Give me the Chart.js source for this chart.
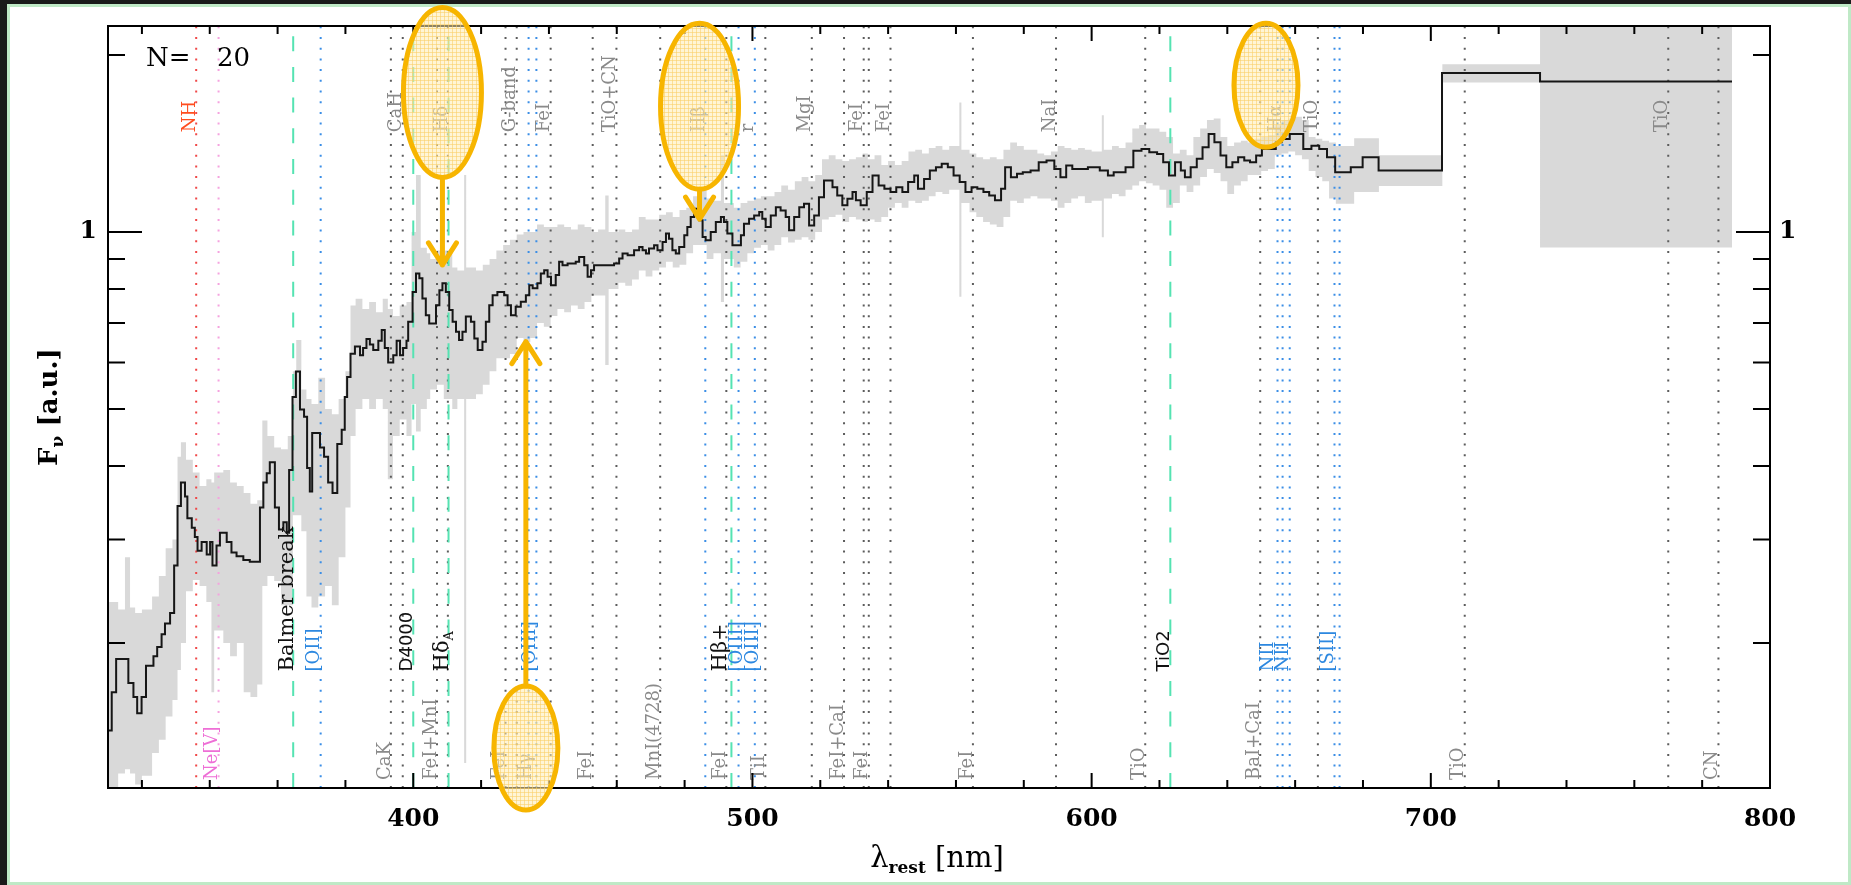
<!DOCTYPE html>
<html>
<head>
<meta charset="utf-8">
<script src="https://cdn.jsdelivr.net/npm/chart.js@4.4.1/dist/chart.umd.min.js"></script>
<style>
html,body{margin:0;padding:0;width:1851px;height:885px;overflow:hidden;background:#1a1a1a}
#frame{position:absolute;left:7px;top:4px;right:0;bottom:0;box-sizing:border-box;border:3px solid #bfe9c6;background:#fff}
#c{position:absolute;left:0;top:0}
</style>
</head>
<body>
<div id="frame"></div>
<canvas id="c" width="1851" height="885"></canvas>
<script>
// axis ranges
var xMin = 310, xMax = 800;
var yMin = 0.1134, yMax = 2.24;

// stacked spectrum (black step line), each value holds until the next wavelength
var specWl = [
309.8,311.1,312.4,316.0,317.5,318.6,319.9,321.2,323.4,324.5,
325.8,326.8,328.3,329.5,330.5,331.5,332.7,333.4,334.7,335.6,
336.4,337.6,339.1,340.1,340.8,342.0,343.0,345.0,346.4,347.9,
349.9,351.8,354.8,355.8,356.8,357.7,359.2,360.4,361.7,362.7,
363.4,364.4,365.4,366.6,367.8,368.7,369.5,370.2,372.5,373.7,
374.9,376.2,377.6,378.9,379.8,380.5,381.5,382.8,384.3,385.2,
386.2,387.2,388.2,389.7,390.7,391.6,392.6,394.1,395.1,396.1,
397.0,398.0,398.5,399.8,400.8,401.8,402.7,403.7,404.7,406.7,
407.7,408.6,409.6,410.6,411.6,412.6,413.5,414.5,415.5,417.0,
418.0,419.0,420.4,421.4,422.4,423.4,424.8,426.8,427.8,428.8,
430.2,431.7,433.2,434.2,435.2,436.6,437.6,438.6,439.6,440.6,
442.0,443.0,444.0,445.5,447.9,448.9,450.4,451.4,452.4,453.3,
459.2,460.7,461.7,463.2,465.1,466.6,467.6,468.6,469.5,471.0,
472.0,473.5,474.5,475.4,476.4,477.4,478.4,479.9,480.8,481.8,
482.8,484.3,485.3,486.2,487.7,489.2,490.7,491.6,492.6,494.1,
496.6,497.5,499.0,500.5,502.0,502.9,503.9,505.4,506.9,508.3,
509.8,510.8,512.3,513.8,515.2,516.7,518.2,519.6,521.1,523.6,
525.0,526.5,528.0,529.5,530.5,531.9,533.7,535.4,537.2,538.9,
540.7,542.4,544.2,545.9,547.7,548.8,550.6,552.3,554.1,555.8,
557.6,559.3,561.1,562.8,564.6,566.3,568.1,569.8,571.5,573.3,
574.5,576.2,578.0,579.7,582.0,584.4,586.7,589.0,590.8,592.5,
594.3,598.9,602.4,604.8,606.5,610.0,612.3,614.7,617.0,619.3,
621.1,622.8,624.6,626.3,627.5,629.2,631.0,632.7,634.5,636.2,
638.0,639.7,641.5,643.2,645.0,646.7,648.5,650.2,654.3,656.0,
658.4,662.4,664.8,667.1,669.4,671.8,676.4,679.9,684.6,703.3,
732.2,788.8];
var specFlux = [
0.142,0.165,0.188,0.171,0.162,0.152,0.162,0.183,0.190,0.197,
0.207,0.216,0.225,0.271,0.342,0.375,0.355,0.326,0.314,0.303,
0.287,0.297,0.283,0.297,0.271,0.293,0.308,0.297,0.285,0.281,
0.277,0.275,0.340,0.375,0.389,0.406,0.340,0.312,0.321,0.308,
0.394,0.524,0.579,0.499,0.485,0.397,0.362,0.455,0.430,0.415,
0.375,0.360,0.436,0.461,0.524,0.567,0.621,0.639,0.617,0.635,
0.658,0.644,0.630,0.653,0.681,0.635,0.600,0.617,0.653,0.617,
0.635,0.653,0.704,0.791,0.850,0.834,0.771,0.722,0.699,0.751,
0.796,0.818,0.791,0.737,0.704,0.677,0.655,0.677,0.718,0.704,
0.659,0.630,0.651,0.704,0.751,0.781,0.791,0.781,0.751,0.722,
0.746,0.761,0.781,0.812,0.802,0.818,0.850,0.861,0.839,0.812,
0.845,0.890,0.878,0.884,0.890,0.907,0.878,0.839,0.861,0.878,
0.884,0.901,0.919,0.913,0.931,0.943,0.931,0.919,0.937,0.949,
0.931,0.962,0.994,0.974,0.931,0.919,0.943,0.987,1.020,1.060,
1.095,1.047,0.981,0.968,1.000,1.040,1.060,1.040,0.994,0.949,
0.987,1.033,1.053,1.067,1.081,1.053,1.020,1.067,1.102,1.088,
1.060,1.007,1.060,1.102,1.117,1.026,1.067,1.146,1.223,1.192,
1.154,1.110,1.139,1.169,1.132,1.110,1.169,1.247,1.200,1.184,
1.169,1.192,1.169,1.216,1.247,1.184,1.231,1.272,1.289,1.306,
1.289,1.247,1.216,1.169,1.192,1.184,1.169,1.154,1.132,1.184,
1.289,1.239,1.256,1.264,1.272,1.314,1.323,1.280,1.239,1.297,
1.280,1.289,1.272,1.247,1.264,1.289,1.375,1.384,1.366,1.357,
1.314,1.247,1.314,1.272,1.239,1.289,1.332,1.393,1.468,1.421,
1.349,1.289,1.314,1.340,1.323,1.314,1.349,1.384,1.421,1.439,
1.468,1.384,1.402,1.384,1.340,1.264,1.289,1.340,1.272,1.864,
1.803,1.803];

// spread of the individual spectra (grey band)
var bandWl = [
310,313,315,316.5,318,320,323,325,327,329,
330.5,331.5,333,335,337,339,340.5,341.3,344,346,
348,350,352,354,355.5,357,359,361,363,364.5,
365.5,367,368.5,370,372,374,376,378,380,381.5,
383,385,387,389,391,392.5,394,396,398,399.5,
400.8,402.2,404,405,407,409,411.5,413,415,415.6,
418.5,420.5,422.5,424.5,426.5,428.5,430.5,432.5,434.5,436.5,
438.5,440.5,442.5,444.5,446.5,448.5,450.5,452.5,454.5,456.6,
457.6,460.5,462.5,464.5,466.5,468.5,470.5,472.5,474.5,476.5,
478.5,480.5,482.5,484.5,486.5,488.5,490.7,491.6,494.5,496.5,
498.5,500.5,502.5,504.5,506.5,508.5,510.5,512.5,514.5,516.5,
518.5,520.5,522.5,524.5,526.5,528.5,530.5,532.5,534,536,
538,540,542,544,546,548,550,552,554,556,
558,561,561.6,564,566,568,570,572,574,576,
578,580,582,584,586,588,590,592,594,596,
598,600,603,603.6,606,608,610,612,614,616,
618,620,622,624,626,628,630,632,634,636,
638,640,642,644,646,648,650,652,654,656,
658,660,662,664,666,668,670,672,677.4,684.7,
703.4,732.2,788.8];
var bandLo = [
0.113,0.12,0.122,0.12,0.115,0.119,0.13,0.137,0.15,0.16,
0.18,0.20,0.245,0.256,0.25,0.235,0.165,0.21,0.20,0.19,
0.20,0.165,0.162,0.17,0.25,0.26,0.255,0.232,0.232,0.33,
0.33,0.31,0.24,0.23,0.24,0.25,0.232,0.28,0.34,0.45,
0.50,0.52,0.50,0.52,0.50,0.38,0.45,0.48,0.45,0.51,
0.458,0.50,0.52,0.54,0.55,0.52,0.50,0.52,0.125,0.52,
0.53,0.55,0.58,0.61,0.61,0.62,0.66,0.65,0.66,0.70,
0.69,0.72,0.74,0.73,0.75,0.74,0.76,0.78,0.78,0.594,
0.80,0.82,0.81,0.83,0.86,0.84,0.86,0.87,0.89,0.87,
0.88,0.92,0.95,0.95,0.90,0.92,0.76,0.90,0.87,0.89,
0.92,0.94,0.95,0.93,0.95,0.98,0.96,0.97,0.98,0.97,
1.0,1.05,1.06,1.07,1.04,1.06,1.05,1.04,1.05,1.04,
1.06,1.10,1.12,1.10,1.13,1.12,1.13,1.15,1.17,1.16,
1.18,0.776,1.12,1.08,1.06,1.04,1.03,1.02,1.06,1.13,
1.12,1.14,1.15,1.14,1.14,1.13,1.10,1.12,1.14,1.15,
1.12,1.13,0.98,1.14,1.16,1.15,1.18,1.20,1.22,1.21,
1.20,1.18,1.10,1.12,1.20,1.17,1.20,1.24,1.28,1.26,
1.22,1.16,1.20,1.22,1.25,1.25,1.27,1.28,1.35,1.36,
1.37,1.35,1.33,1.27,1.24,1.22,1.14,1.117,1.169,1.197,
1.796,0.941,0.941];
var bandHi = [
0.235,0.228,0.28,0.23,0.225,0.228,0.24,0.26,0.29,0.30,
0.415,0.439,0.41,0.39,0.37,0.38,0.375,0.39,0.394,0.375,
0.37,0.36,0.345,0.35,0.478,0.45,0.43,0.427,0.45,0.58,
0.655,0.54,0.52,0.51,0.565,0.50,0.49,0.52,0.58,0.75,
0.77,0.74,0.76,0.73,0.77,0.74,0.72,0.75,0.76,1.0,
1.25,0.94,0.92,0.90,0.93,0.93,0.87,0.86,1.25,0.87,
0.86,0.88,0.90,0.93,0.95,0.97,0.99,1.0,1.0,1.03,
1.02,1.02,1.03,1.02,1.01,1.03,1.02,1.0,1.01,1.154,
1.0,1.01,1.0,1.01,1.06,1.05,1.05,1.07,1.08,1.06,
1.09,1.10,1.15,1.19,1.14,1.13,1.35,1.12,1.10,1.12,
1.13,1.14,1.15,1.15,1.17,1.20,1.18,1.22,1.24,1.22,
1.25,1.33,1.35,1.33,1.32,1.33,1.34,1.36,1.33,1.35,
1.30,1.32,1.30,1.32,1.37,1.38,1.36,1.39,1.40,1.38,
1.40,1.66,1.38,1.36,1.34,1.33,1.34,1.33,1.38,1.42,
1.40,1.38,1.38,1.36,1.35,1.37,1.40,1.39,1.38,1.39,
1.38,1.37,1.58,1.38,1.40,1.39,1.42,1.50,1.52,1.50,
1.50,1.48,1.45,1.36,1.38,1.35,1.45,1.50,1.55,1.56,
1.45,1.40,1.42,1.43,1.42,1.44,1.45,1.46,1.52,1.55,
1.56,1.57,1.55,1.45,1.44,1.43,1.42,1.40,1.443,1.35,
1.929,3,3];

// feature wavelengths (nm), grouped by line style
var absLines = [393.4,396.9,407.0,410.2,427.2,430.5,440.5,452.9,459.9,472.8,492.3,503.8,517.5,527.0,532.8,534.3,540.7,565.0,589.5,615.8,649.7,666.7,710.0,770.0,784.8];
var emLines = [372.7,434.0,436.3,486.1,495.9,500.7,654.8,656.3,658.4,671.6,673.1];
var idxLines = [364.6,400.0,410.4,493.8,623.2];
var nhLines = [336.0];
var neLines = [342.6];

// feature labels
var labelWl = [336.0,396.9,410.2,430.5,440.5,459.9,486.1,500.7,517.5,532.8,540.7,589.5,656.3,666.7,770.0,
  364.6,372.7,400.0,410.4,436.3,492.3,497.2,501.9,623.2,654.0,658.4,671.6,
  342.6,393.4,407.0,427.2,435.2,452.9,472.8,492.3,503.8,527.0,534.3,565.0,615.8,649.7,710.0,784.8];
var labelText = ['NH','CaH','H\u03b4','G-band','FeI','TiO+CN','H\u03b2','r','MgI','FeI','FeI','NaI','H\u03b1','TiO','TiO',
  'Balmer break','[OII]','D4000','H\u03b4_A','[OIII]','H\u03b2+','[OIII]','[OIII]','TiO2','NII','NII','[SII]',
  'Ne[V]','CaK','FeI+MnI','FeI','H\u03b3','FeI','MnI(4728)','FeI','TiI','FeI+CaI','FeI','FeI','TiO','BaI+CaI','TiO','CN'];
var labelRow = ['top','top','top','top','top','top','top','top','top','top','top','top','top','top','top',
  'mid','mid','mid','mid','mid','mid','mid','mid','mid','mid','mid','mid',
  'bot','bot','bot','bot','bot','bot','bot','bot','bot','bot','bot','bot','bot','bot','bot','bot'];
var labelKind = ['nh','abs','abs','abs','abs','abs','abs','abs','abs','abs','abs','abs','abs','abs','abs',
  'idx','em','idxs','idx','em','idx','em','em','idxs','em','em','em',
  'ne','abs','abs','abs','abs','abs','abs','abs','abs','abs','abs','abs','abs','abs','abs','abs'];

// ticks
var xTickVals = [320,340,360,380,400,420,440,460,480,500,520,540,560,580,600,620,640,660,680,700,720,740,760,780,800];
var yTickVals = [0.2,0.3,0.4,0.5,0.6,0.7,0.8,0.9,1,2];

var nSpectra = 20;

// ----- styles -----
var rowFlux = {top: 1.477, mid: 0.179, bot: 0.117};
var kindStyle = {
  abs: {font: '18px "DejaVu Serif"', color: '#8a8a8a'},
  em: {font: '18px "DejaVu Serif"', color: '#2d88e0'},
  idx: {font: '21px "DejaVu Serif"', color: '#111'},
  idxs: {font: '18px "DejaVu Sans"', color: '#111'},
  nh: {font: '18px "DejaVu Serif"', color: '#ff4d1f'},
  ne: {font: '18px "DejaVu Serif"', color: '#ee6fd6'}
};
var highlights = [
  {wl: 408.6, y: 1.727, rx: 39, ry: 85, tip: 0.879},
  {wl: 484.4, y: 1.636, rx: 39, ry: 83, tip: 1.052},
  {wl: 651.4, y: 1.776, rx: 32, ry: 62},
  {wl: 433.2, y: 0.1326, rx: 32, ry: 62, tip: 0.651}
];

function pts(xs, ys){ return xs.map(function(x,i){ return {x:x, y:ys[i]}; }); }
function vlines(ws){
  var out = [];
  ws.forEach(function(w){ out.push({x:w,y:yMin},{x:w,y:yMax},{x:w,y:null}); });
  return out;
}

function vtext(ctx, str, x, y, st){
  ctx.save();
  ctx.translate(x, y);
  ctx.rotate(-Math.PI/2);
  ctx.fillStyle = st.color;
  ctx.textAlign = 'left';
  ctx.textBaseline = 'middle';
  var parts = str.split('_');
  ctx.font = st.font;
  ctx.fillText(parts[0], 0, 0);
  if(parts[1]){
    var w = ctx.measureText(parts[0]).width;
    ctx.font = st.font.replace(/\d+px/, '13px');
    ctx.fillText(parts[1], w, 7);
  }
  ctx.restore();
}

// crosshatch used inside the highlight ellipses
function hatch(ctx){
  var c = document.createElement('canvas');
  c.width = 4; c.height = 4;
  var g = c.getContext('2d');
  g.fillStyle = 'rgba(255,236,180,0.55)';
  g.fillRect(0,0,4,4);
  g.fillStyle = 'rgba(250,205,100,0.55)';
  g.fillRect(0,0,4,1);
  g.fillRect(0,0,1,4);
  return ctx.createPattern(c, 'repeat');
}

var decor = {
  id: 'decor',
  afterDatasetsDraw: function(chart){
    var ctx = chart.ctx, a = chart.chartArea;
    var xs = chart.scales.x, ys = chart.scales.y;
    ctx.save();
    // feature labels
    for(var i=0;i<labelWl.length;i++){
      var px = xs.getPixelForValue(labelWl[i]) - 6;
      var py = ys.getPixelForValue(rowFlux[labelRow[i]]);
      vtext(ctx, labelText[i], px, py, kindStyle[labelKind[i]]);
    }
    // frame + inward ticks
    ctx.strokeStyle = '#000';
    ctx.lineWidth = 2;
    ctx.strokeRect(a.left, a.top, a.right-a.left, a.bottom-a.top);
    ctx.beginPath();
    xTickVals.forEach(function(v){
      var p = xs.getPixelForValue(v), len = v % 100 === 0 ? 15 : 8;
      ctx.moveTo(p, a.bottom); ctx.lineTo(p, a.bottom-len);
      ctx.moveTo(p, a.top); ctx.lineTo(p, a.top+len);
    });
    yTickVals.forEach(function(v){
      var p = ys.getPixelForValue(v), len = v === 1 ? 34 : 17;
      ctx.moveTo(a.left, p); ctx.lineTo(a.left+len, p);
      ctx.moveTo(a.right, p); ctx.lineTo(a.right-len, p);
    });
    ctx.stroke();

    // N= label
    ctx.fillStyle = '#000';
    ctx.textBaseline = 'alphabetic';
    ctx.textAlign = 'left';
    ctx.font = '26px "DejaVu Serif"';
    ctx.fillText('N=', a.left+38, a.top+40);
    ctx.fillText(String(nSpectra), a.left+109, a.top+40);

    // x title
    var f1 = '29px "DejaVu Serif"', f2 = 'bold 17px "DejaVu Serif"';
    ctx.font = f1; var w1 = ctx.measureText('\u03bb').width, w3 = ctx.measureText(' [nm]').width;
    ctx.font = f2; var w2 = ctx.measureText('rest').width;
    var x0 = (a.left+a.right)/2 - 2 - (w1+w2+w3)/2, yb = a.bottom + 79;
    ctx.font = f1; ctx.fillText('\u03bb', x0, yb);
    ctx.font = f2; ctx.fillText('rest', x0+w1, yb+6);
    ctx.font = f1; ctx.fillText(' [nm]', x0+w1+w2, yb);

    // y title
    ctx.save();
    ctx.translate(57, (a.top+a.bottom)/2);
    ctx.rotate(-Math.PI/2);
    var g1 = 'bold 26px "DejaVu Serif"', g2 = 'bold 17px "DejaVu Serif"';
    ctx.font = g1; var v1 = ctx.measureText('F').width, v3 = ctx.measureText(' [a.u.]').width;
    ctx.font = g2; var v2 = ctx.measureText('\u03bd').width;
    var s0 = -(v1+v2+v3)/2;
    ctx.font = g1; ctx.fillText('F', s0, 0);
    ctx.font = g2; ctx.fillText('\u03bd', s0+v1, 6);
    ctx.font = g1; ctx.fillText(' [a.u.]', s0+v1+v2, 0);
    ctx.restore();
    ctx.restore();
  },
  afterDraw: function(chart){
    var ctx = chart.ctx;
    var xs = chart.scales.x, ys = chart.scales.y;
    var pat = hatch(ctx);
    ctx.save();
    ctx.strokeStyle = '#f7b500';
    ctx.lineWidth = 5;
    ctx.lineCap = 'round';
    ctx.lineJoin = 'round';
    highlights.forEach(function(h){
      var cx = xs.getPixelForValue(h.wl), cy = ys.getPixelForValue(h.y);
      ctx.beginPath();
      ctx.ellipse(cx, cy, h.rx, h.ry, 0, 0, Math.PI*2);
      ctx.fillStyle = pat;
      ctx.fill();
      ctx.stroke();
      if(h.tip !== undefined){
        var ty = ys.getPixelForValue(h.tip);
        var dir = ty > cy ? 1 : -1;
        var sy = cy + dir*h.ry;
        ctx.beginPath();
        ctx.moveTo(cx, sy); ctx.lineTo(cx, ty);
        ctx.moveTo(cx-14, ty-dir*22); ctx.lineTo(cx, ty); ctx.lineTo(cx+14, ty-dir*22);
        ctx.stroke();
      }
    });
    ctx.restore();
  }
};

var dotted = [2, 8.7];
new Chart(document.getElementById('c'), {
  type: 'line',
  data: {
    datasets: [
      {data: pts(specWl, specFlux), borderColor: '#161616', borderWidth: 2, stepped: 'before'},
      {data: vlines(idxLines), borderColor: '#55e3b2', borderWidth: 2, borderDash: [15, 15.7]},
      {data: vlines(emLines), borderColor: '#3b8ee6', borderWidth: 2, borderDash: dotted},
      {data: vlines(absLines), borderColor: '#5c5c5c', borderWidth: 2, borderDash: dotted},
      {data: vlines(nhLines), borderColor: '#f04848', borderWidth: 2, borderDash: dotted},
      {data: vlines(neLines), borderColor: '#f5a3df', borderWidth: 2, borderDash: dotted},
      {data: pts(bandWl, bandLo), borderColor: 'rgba(0,0,0,0)', borderWidth: 1, stepped: 'before', fill: false},
      {data: pts(bandWl, bandHi), borderColor: 'rgba(0,0,0,0)', borderWidth: 1, stepped: 'before', fill: '-1', backgroundColor: '#d9d9d9'}
    ]
  },
  options: {
    responsive: false,
    animation: false,
    devicePixelRatio: 1,
    layout: {padding: {top: 23, left: 0, right: 0, bottom: 0}},
    elements: {point: {radius: 0}, line: {tension: 0}},
    plugins: {legend: {display: false}, tooltip: {enabled: false}},
    scales: {
      x: {
        type: 'linear', min: xMin, max: xMax, bounds: 'data',
        grid: {display: false, drawTicks: false}, border: {display: false},
        afterBuildTicks: function(s){ s.ticks = xTickVals.map(function(v){ return {value: v}; }); },
        afterFit: function(s){ s.height = 97; },
        ticks: {autoSkip: false, maxRotation: 0, padding: 16, color: '#000',
          font: {family: 'DejaVu Serif', size: 25, weight: 'bold'},
          callback: function(v){ return v % 100 === 0 ? String(v) : ''; }}
      },
      y: {
        type: 'logarithmic', min: yMin, max: yMax, position: 'left',
        grid: {display: false, drawTicks: false}, border: {display: false},
        afterBuildTicks: function(s){ s.ticks = [{value: 1}]; },
        afterFit: function(s){ s.width = 108; },
        ticks: {padding: 11, color: '#000', font: {family: 'DejaVu Serif', size: 25, weight: 'bold'},
          callback: function(v){ return v === 1 ? '1' : ''; }}
      },
      y2: {
        type: 'logarithmic', min: yMin, max: yMax, position: 'right',
        grid: {display: false, drawTicks: false}, border: {display: false},
        afterBuildTicks: function(s){ s.ticks = [{value: 1}]; },
        afterFit: function(s){ s.width = 81; },
        ticks: {padding: 9, color: '#000', font: {family: 'DejaVu Serif', size: 25, weight: 'bold'},
          callback: function(v){ return v === 1 ? '1' : ''; }}
      }
    }
  },
  plugins: [decor]
});
</script>
</body>
</html>
